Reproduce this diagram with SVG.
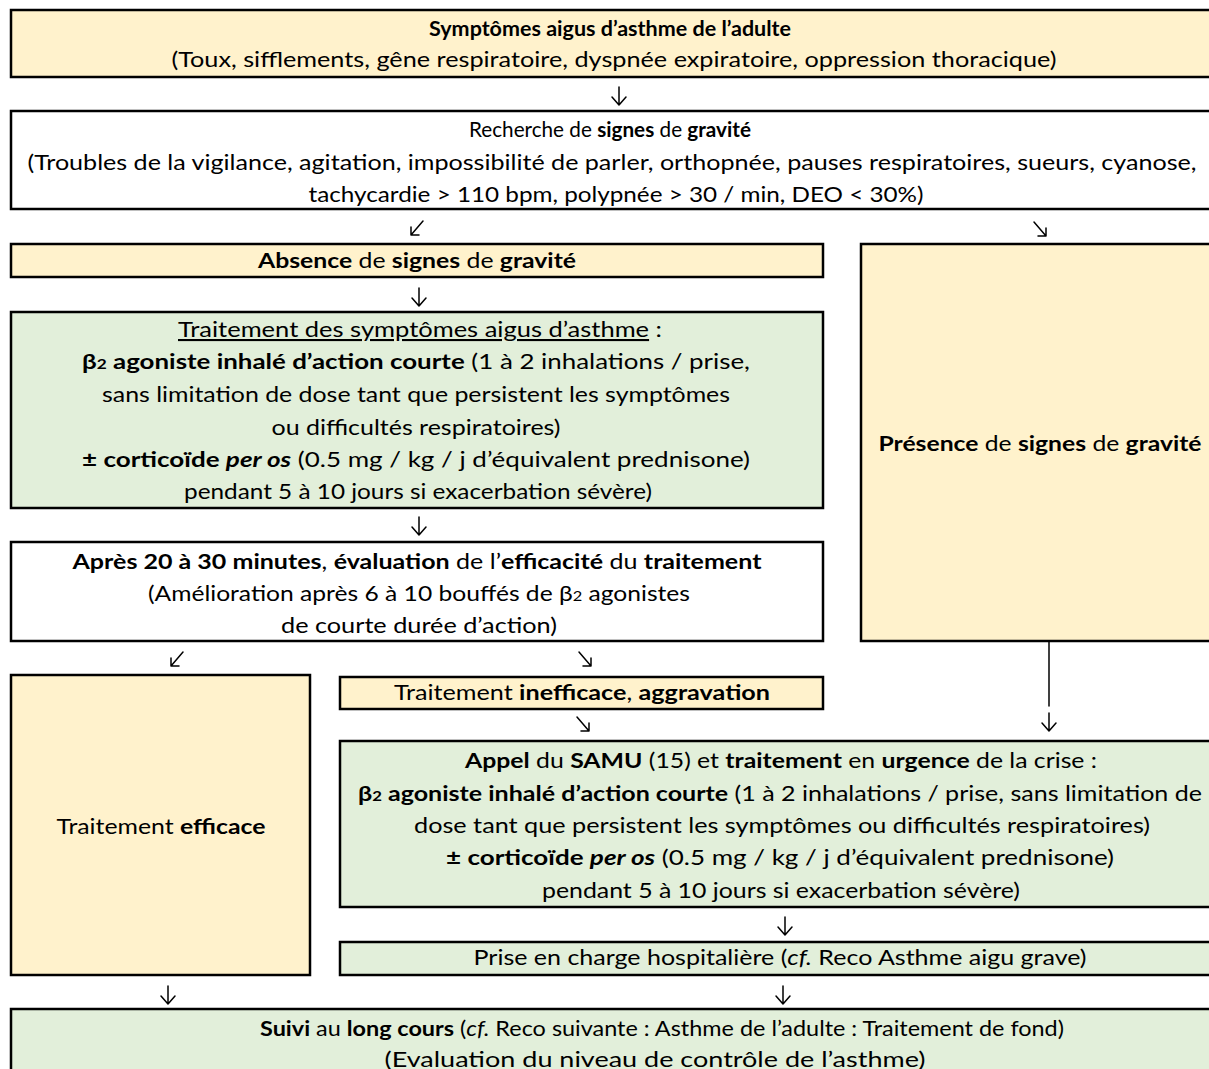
<svg xmlns="http://www.w3.org/2000/svg" width="1209" height="1069" viewBox="0 0 1209 1069">
<style>
.box{stroke:#000;stroke-width:2.5}
.y{fill:#FFF2CC}
.g{fill:#E2EFDA}
.w{fill:#FFFFFF}
text{font-family:Lato,"Liberation Sans",sans-serif;font-size:21px;fill:#000;text-anchor:middle}
.b{font-weight:bold}
.i{font-style:italic}
.sub{font-size:14px}
.u{text-decoration:underline}
.c path{fill:none;stroke:#000;stroke-width:1.5;stroke-linecap:round;stroke-linejoin:round}
</style>
<rect width="1209" height="1069" fill="#fff"/>

<g id="n1">
<rect class="box y" x="11" y="10" width="1210" height="67"/>
<text x="610" y="36" textLength="362" lengthAdjust="spacingAndGlyphs" class="b">Symptômes aigus d’asthme de l’adulte</text>
<text x="614" y="67" textLength="885" lengthAdjust="spacingAndGlyphs">(Toux, sifflements, gêne respiratoire, dyspnée expiratoire, oppression thoracique)</text>
</g>

<g id="n2">
<rect class="box w" x="11" y="111" width="1210" height="98"/>
<text x="610" y="137" textLength="282" lengthAdjust="spacingAndGlyphs" style="font-size:20.5px">Recherche de <tspan class="b">signes</tspan> de <tspan class="b">gravité</tspan></text>
<text x="612" y="170" textLength="1169" lengthAdjust="spacingAndGlyphs">(Troubles de la vigilance, agitation, impossibilité de parler, orthopnée, pauses respiratoires, sueurs, cyanose,</text>
<text x="616" y="202" textLength="615" lengthAdjust="spacingAndGlyphs">tachycardie &gt; 110 bpm, polypnée &gt; 30 / min, DEO &lt; 30%)</text>
</g>

<g id="n3">
<rect class="box y" x="11" y="244" width="812" height="33"/>
<text x="417" y="268" textLength="318" lengthAdjust="spacingAndGlyphs"><tspan class="b">Absence</tspan> de <tspan class="b">signes</tspan> de <tspan class="b">gravité</tspan></text>
</g>

<g id="n4">
<rect class="box y" x="861" y="244" width="360" height="397"/>
<text x="1040" y="451" textLength="323" lengthAdjust="spacingAndGlyphs"><tspan class="b">Présence</tspan> de <tspan class="b">signes</tspan> de <tspan class="b">gravité</tspan></text>
</g>

<g id="n5">
<rect class="box g" x="11" y="312" width="812" height="196"/>
<text x="420" y="337" textLength="484" lengthAdjust="spacingAndGlyphs"><tspan class="u">Traitement des symptômes aigus d’asthme</tspan> :</text>
<text x="416" y="369" textLength="668" lengthAdjust="spacingAndGlyphs"><tspan class="b">β<tspan class="sub">2</tspan> agoniste inhalé d’action courte</tspan> (1 à 2 inhalations / prise,</text>
<text x="416" y="402" textLength="628" lengthAdjust="spacingAndGlyphs">sans limitation de dose tant que persistent les symptômes</text>
<text x="416" y="435" textLength="289" lengthAdjust="spacingAndGlyphs">ou difficultés respiratoires)</text>
<text x="416" y="467" textLength="668" lengthAdjust="spacingAndGlyphs"><tspan class="b">± corticoïde <tspan class="i">per os</tspan></tspan> (0.5 mg / kg / j d’équivalent prednisone)</text>
<text x="418" y="499" textLength="468" lengthAdjust="spacingAndGlyphs">pendant 5 à 10 jours si exacerbation sévère)</text>
</g>

<g id="n6">
<rect class="box w" x="11" y="542" width="812" height="99"/>
<text x="417" y="569" textLength="689" lengthAdjust="spacingAndGlyphs"><tspan class="b">Après 20 à 30 minutes</tspan>, <tspan class="b">évaluation</tspan> de l’<tspan class="b">efficacité</tspan> du <tspan class="b">traitement</tspan></text>
<text x="419" y="601" textLength="542" lengthAdjust="spacingAndGlyphs">(Amélioration après 6 à 10 bouffés de β<tspan class="sub">2</tspan> agonistes</text>
<text x="419" y="633" textLength="276" lengthAdjust="spacingAndGlyphs">de courte durée d’action)</text>
</g>

<g id="n7">
<rect class="box y" x="11" y="675" width="299" height="300"/>
<text x="161" y="834" textLength="209" lengthAdjust="spacingAndGlyphs">Traitement <tspan class="b">efficace</tspan></text>
</g>

<g id="n8">
<rect class="box y" x="340" y="677" width="483" height="32"/>
<text x="582" y="700" textLength="376" lengthAdjust="spacingAndGlyphs">Traitement <tspan class="b">inefficace</tspan>, <tspan class="b">aggravation</tspan></text>
</g>

<g id="n9">
<rect class="box g" x="340" y="741" width="881" height="166"/>
<text x="781" y="768" textLength="632" lengthAdjust="spacingAndGlyphs"><tspan class="b">Appel</tspan> du <tspan class="b">SAMU</tspan> (15) et <tspan class="b">traitement</tspan> en <tspan class="b">urgence</tspan> de la crise :</text>
<text x="780" y="801" textLength="844" lengthAdjust="spacingAndGlyphs"><tspan class="b">β<tspan class="sub">2</tspan> agoniste inhalé d’action courte</tspan> (1 à 2 inhalations / prise, sans limitation de</text>
<text x="782" y="833" textLength="736" lengthAdjust="spacingAndGlyphs">dose tant que persistent les symptômes ou difficultés respiratoires)</text>
<text x="780" y="865" textLength="668" lengthAdjust="spacingAndGlyphs"><tspan class="b">± corticoïde <tspan class="i">per os</tspan></tspan> (0.5 mg / kg / j d’équivalent prednisone)</text>
<text x="781" y="898" textLength="478" lengthAdjust="spacingAndGlyphs">pendant 5 à 10 jours si exacerbation sévère)</text>
</g>

<g id="n10">
<rect class="box g" x="340" y="942" width="881" height="33"/>
<text x="780" y="965" textLength="613" lengthAdjust="spacingAndGlyphs">Prise en charge hospitalière (<tspan class="i">cf.</tspan> Reco Asthme aigu grave)</text>
</g>

<g id="n11">
<rect class="box g" x="11" y="1009" width="1210" height="80"/>
<text x="662" y="1036" textLength="804" lengthAdjust="spacingAndGlyphs"><tspan class="b">Suivi</tspan> au <tspan class="b">long cours</tspan> (<tspan class="i">cf.</tspan> Reco suivante : Asthme de l’adulte : Traitement de fond)</text>
<text x="655" y="1067" textLength="541" lengthAdjust="spacingAndGlyphs">(Evaluation du niveau de contrôle de l’asthme)</text>
</g>

<g id="connectors" class="c">
<path d="M619 87V105M612 97L619 105L626 97"/>
<path d="M423 221L411 235M411 227V235H419"/>
<path d="M1034 222L1046 236M1046 228V236H1038"/>
<path d="M419 288V306M412 298L419 306L426 298"/>
<path d="M419 517V535M412 527L419 535L426 527"/>
<path d="M183 652L171 666M171 658V666H179"/>
<path d="M579 652L591 666M591 658V666H583"/>
<path d="M577 717L589 731M589 723V731H581"/>
<path d="M1049 642V706"/>
<path d="M1049 713V731M1042 723L1049 731L1056 723"/>
<path d="M785 917V935M778 927L785 935L792 927"/>
<path d="M168 986V1004M161 996L168 1004L175 996"/>
<path d="M783 986V1004M776 996L783 1004L790 996"/>
</g>
</svg>
